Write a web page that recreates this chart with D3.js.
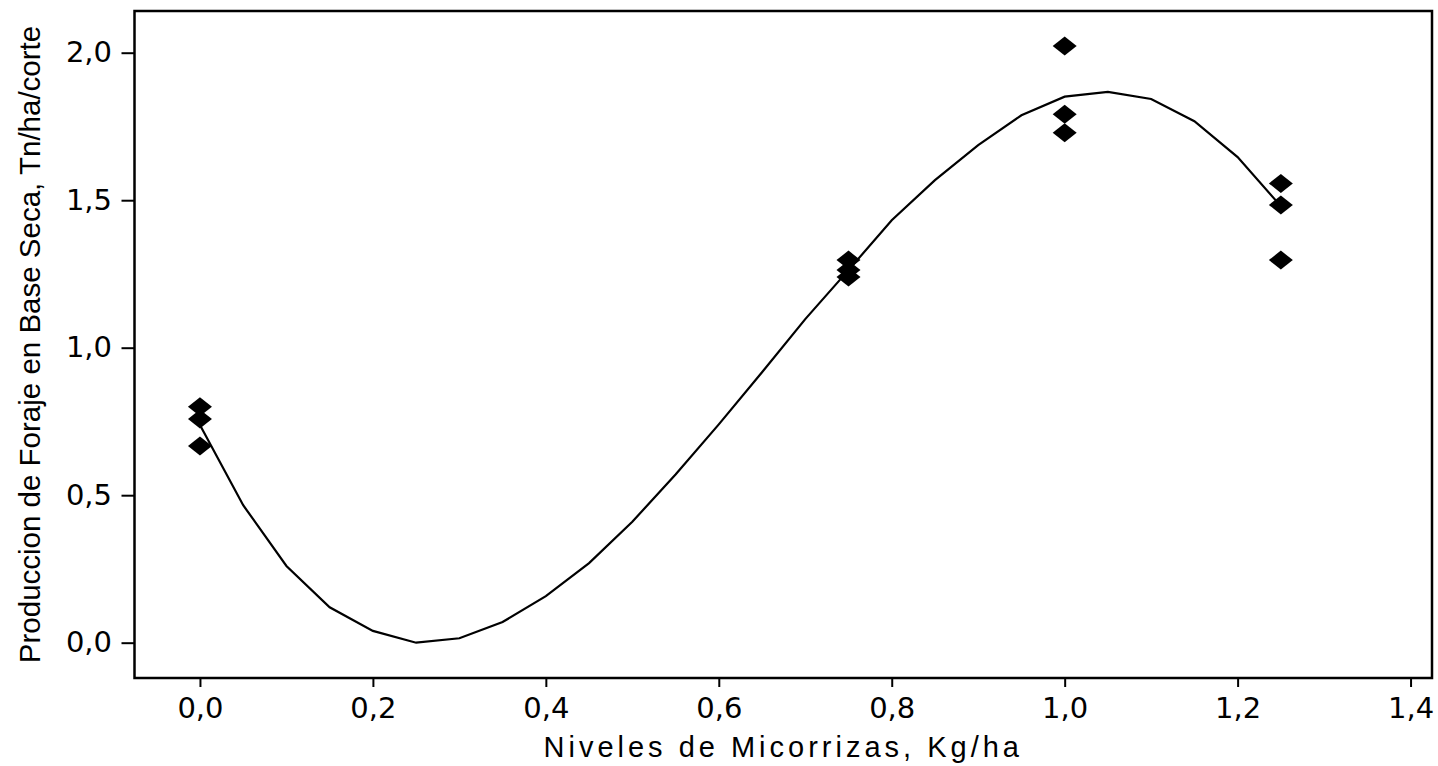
<!DOCTYPE html>
<html lang="es">
<head>
<meta charset="utf-8">
<script src="https://cdn.jsdelivr.net/npm/d3@7"></script>
<style>
    body { margin: 0; background: #ffffff; }
    .tick text { font-family: "DejaVu Sans", Verdana, sans-serif; font-size: 29px; fill: #000; }
    .tick line { stroke: #000; stroke-width: 2px; }
    .domain { display: none; }
</style>
</head>
<body>
<div id="chart"></div>
<script type="text/javascript">

    // observaciones (tres repeticiones por nivel)
    var obsX = [0, 0, 0, 0.75, 0.75, 0.75, 1.0, 1.0, 1.0, 1.25, 1.25, 1.25];
    var obsY = [0.80, 0.758, 0.667, 1.297, 1.263, 1.24, 2.023, 1.791, 1.729, 1.557, 1.484, 1.297];

    // curva ajustada
    var curveX = [0, 0.05, 0.10, 0.15, 0.20, 0.25, 0.30, 0.35, 0.40, 0.45, 0.50, 0.55, 0.60,
                  0.65, 0.70, 0.75, 0.80, 0.85, 0.90, 0.95, 1.00, 1.05, 1.10, 1.15, 1.20, 1.25];
    var curveY = [0.738, 0.466, 0.26, 0.12, 0.04, 0.0, 0.015, 0.07, 0.158, 0.27, 0.41, 0.57, 0.74,
                  0.917, 1.097, 1.263, 1.432, 1.568, 1.687, 1.788, 1.851, 1.867, 1.843, 1.768, 1.646, 1.48];

    var xTicks = [0, 0.2, 0.4, 0.6, 0.8, 1.0, 1.2, 1.4];
    var yTicks = [0, 0.5, 1.0, 1.5, 2.0];

    var xTitle = "Niveles de Micorrizas, Kg/ha";
    var yTitle = "Produccion de Foraje en Base Seca,  Tn/ha/corte";

    var svgWidth = 1438;
    var svgHeight = 766;

    var margin = {top: 11, right: 6, bottom: 88, left: 134.5};
    var chartWidth = svgWidth - margin.left - margin.right;
    var chartHeight = svgHeight - margin.top - margin.bottom;

    var svg = d3.select("#chart").append("svg")
            .attr("width", svgWidth)
            .attr("height", svgHeight);

    var g = svg.append("g")
            .attr("transform", "translate(" + margin.left + ", " + margin.top + ")");

    var x = d3.scaleLinear()
            .domain([-0.0757, 1.4248])
            .range([0, chartWidth]);

    var y = d3.scaleLinear()
            .domain([-0.1197, 2.1414])
            .range([chartHeight, 0]);

    var comma = function(d) { return d3.format(".1f")(d).replace(".", ","); };

    /* ejes */
    g.append("g")
            .attr("transform", "translate(0, " + chartHeight + ")")
            .call(d3.axisBottom(x).tickValues(xTicks).tickFormat(comma).tickSize(9).tickPadding(10.4));

    g.append("g")
            .call(d3.axisLeft(y).tickValues(yTicks).tickFormat(comma).tickSize(13).tickPadding(9.5));

    /* marco */
    g.append("rect")
            .attr("width", chartWidth)
            .attr("height", chartHeight)
            .style("fill", "none")
            .style("stroke", "#000")
            .style("stroke-width", 2.5);

    /* curva */
    var line = d3.line()
            .x(function(d, i) { return x(curveX[i]); })
            .y(function(d, i) { return y(curveY[i]); });

    g.append("path")
            .datum(curveY)
            .attr("d", line)
            .style("fill", "none")
            .style("stroke", "#000")
            .style("stroke-width", 2.2);

    /* puntos (rombos) */
    g.selectAll(".obs")
            .data(obsY)
            .enter()
            .append("path")
            .attr("class", "obs")
            .attr("d", "M-12,0L0,-9.5L12,0L0,9.5Z")
            .attr("transform", function(d, i) {
                return "translate(" + x(obsX[i]) + ", " + y(d) + ")";
            })
            .style("fill", "#000");

    /* titulos */
    svg.append("text")
            .attr("x", margin.left + chartWidth / 2)
            .attr("y", 757)
            .attr("text-anchor", "middle")
            .style("font-family", "\"Liberation Sans\", Arial, sans-serif")
            .style("font-size", "29px")
            .style("letter-spacing", "4px")
            .text(xTitle);

    svg.append("text")
            .attr("transform", "translate(40, " + (margin.top + chartHeight / 2) + ") rotate(-90)")
            .attr("text-anchor", "middle")
            .style("font-family", "\"Liberation Sans\", Arial, sans-serif")
            .style("font-size", "29.5px")
            .text(yTitle);

</script>
</body>
</html>
